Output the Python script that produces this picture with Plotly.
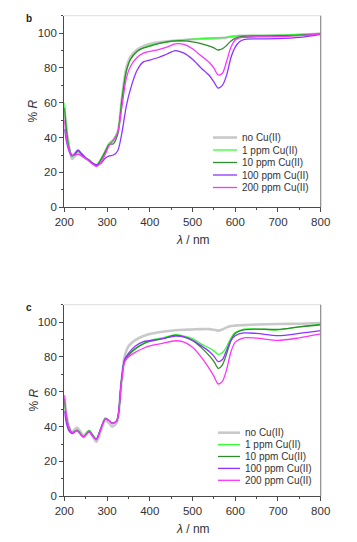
import plotly.graph_objects as go

# ---------------- data ----------------
series_names = ["no Cu(II)", "1 ppm Cu(II)", "10 ppm Cu(II)", "100 ppm Cu(II)", "200 ppm Cu(II)"]
series_colors = ["#c9c9c9", "#33ff33", "#2e8b2e", "#8f33ff", "#ff33ff"]
series_widths = [2.6, 1.3, 1.3, 1.3, 1.3]

# panel b
wl_b = [200, 205, 210, 218, 225, 232, 240, 250, 258, 265, 275, 285, 295, 305, 315, 325, 335, 345, 355,
        370, 385, 400, 420, 440, 460, 480, 500, 520, 540, 550, 560, 570, 580, 590, 600, 610, 620, 650,
        700, 750, 800]
b_none = [58, 45, 36, 27.8, 29.5, 32, 30, 28, 27, 25.5, 24, 27, 31.5, 36.5, 38.5, 43, 63, 80, 86.5,
          90.5, 92.5, 93.8, 94.8, 95.3, 95.7, 96, 96.5, 96.8, 97, 97, 97, 97.2, 97.5, 98, 98.2, 98.4, 98.5, 98.5,
          98.6, 99, 99.6]
b_1ppm = [60, 46, 37, 29.5, 30, 32.5, 30.5, 28, 27, 25.5, 24, 27.5, 32, 36.5, 39, 43.5, 63, 78, 85,
          89.5, 91.5, 93, 94, 94.8, 95.6, 96, 96.5, 96.8, 97, 97.2, 97.3, 97.4, 97.6, 98, 98.3, 98.5, 98.6, 98.7,
          98.8, 99.2, 99.8]
b_10ppm = [57, 44, 35, 29.5, 30.5, 32.5, 30.5, 28, 27, 25.5, 24, 27, 31.5, 36, 36.5, 42, 62, 78, 85,
           89.5, 91.5, 92.5, 94, 95, 95.5, 95.6, 95, 94, 92.5, 91.5, 90.3, 91, 93, 95.5, 97, 97.8, 98.2, 98.4,
           98.5, 98.8, 99.5]
b_100ppm = [45, 38, 33, 29.5, 31, 33, 31, 28.5, 27, 25.5, 24.5, 25, 28, 29.5, 30, 32.5, 43, 58, 68,
            78.5, 83.5, 84.5, 86, 88, 90, 88.5, 85, 80, 75.5, 72, 68.5, 70, 76, 86, 92, 95, 96.3, 96.7,
            96.8, 97.5, 99.3]
b_200ppm = [50, 40, 34, 30, 30, 30.5, 29.5, 28, 26.5, 25, 23.5, 25.5, 30, 35.5, 38.5, 43, 58, 74, 81,
            86, 88.5, 89.5, 90.5, 92, 93.8, 93.5, 91, 87, 83, 80, 76, 77, 84, 92, 96, 97.3, 97.6, 97.8,
            98, 98.6, 99.4]

# panel c
wl_c = [200, 205, 210, 218, 230, 245, 258, 265, 275, 285, 296, 305, 312, 323, 333, 341, 350, 365, 385,
        400, 430, 460, 480, 500, 520, 540, 550, 560, 570, 580, 590, 600, 620, 650, 700, 750, 800]
c_none = [58, 47, 41, 37, 39.4, 35, 37.5, 35, 31.3, 37, 43.5, 42, 40, 42.5, 64, 80, 86, 89.5, 92,
          93.2, 94.5, 95.3, 95.6, 95.8, 96, 96, 95.6, 95.1, 95.8, 97, 97.8, 98, 98.3, 98.6, 98.9, 99.1, 99.4]
c_1ppm = [56, 45, 40, 36.5, 38, 34.3, 37.8, 36, 33, 39, 45, 43.5, 42, 43.5, 65, 78, 81, 84.5, 87.8,
          89.5, 91, 92.8, 92, 90.5, 87.5, 85, 83.5, 81.5, 82.5, 86, 91, 94, 96, 96, 95.5, 97.3, 98.9]
c_10ppm = [56, 45, 40, 36.5, 38, 34.3, 37.5, 35.5, 32.5, 38.5, 44.5, 43.5, 42, 43.5, 65, 78, 81, 84.5, 87.5,
           89, 90.5, 92.5, 91.5, 89.5, 85.5, 80.5, 77.5, 73.5, 75.5, 82, 89.5, 93.5, 95.5, 96, 95.8, 97.3, 98.5]
c_100ppm = [49, 42, 38, 36, 37.5, 34, 37, 35, 33, 38.5, 44.5, 43.5, 41.8, 43.5, 65, 78.5, 82, 86, 88.8,
            89.3, 90.5, 92, 91.5, 89.5, 86.5, 83, 80.5, 77.3, 78.5, 84, 89.5, 92.2, 93.8, 93.5, 92.2, 93.5, 95.1]
c_200ppm = [58, 46, 40, 36.5, 37.7, 34, 37.3, 35, 32.5, 38.5, 44.5, 43.5, 41.8, 43.5, 64, 77, 80, 82.5, 85,
            86.3, 87.8, 89.3, 88.5, 85.5, 80, 73, 69, 64.5, 66, 73, 83, 88.5, 91, 90.8, 89.5, 91, 93.2]

x_ticks = [200, 300, 400, 500, 600, 700, 800]
y_ticks = [0, 20, 40, 60, 80, 100]
panel_labels = ["b", "c"]

# ---------------- figure ----------------
# the page body has a default 8px margin; the figure is sized to fill the rest of the window
OFF = 8
W, H = 357 - OFF, 542 - OFF
FONT = "Liberation Sans, Arial, sans-serif"
TXT = "#333333"
AX = "#4a4a4a"

def px_x(p):
    return (p - OFF) / W

def px_y(p):
    return 1 - (p - OFF) / H

# plot areas in window pixels (left, right, top, bottom)
panels = [
    dict(l=64.3, r=320.7, t=15.7, b=207.3, xa="x", ya="y",
         data=(wl_b, [b_none, b_1ppm, b_10ppm, b_100ppm, b_200ppm]),
         leg_x0=213, leg_x1=237, leg_tx=240, leg_y0=137.5, leg_dy=12.5),
    dict(l=64.3, r=320.7, t=304.7, b=496.3, xa="x2", ya="y2",
         data=(wl_c, [c_none, c_1ppm, c_10ppm, c_100ppm, c_200ppm]),
         leg_x0=218, leg_x1=240, leg_tx=243, leg_y0=432.7, leg_dy=11.9),
]

fig = go.Figure()
shapes = []
annotations = []

for pi, p in enumerate(panels):
    wl, ys = p["data"]
    for name, col, w, yv in zip(series_names, series_colors, series_widths, ys):
        fig.add_trace(go.Scatter(x=wl, y=yv, mode="lines", name=name,
                                 line=dict(color=col, width=w, shape="spline", smoothing=0.8),
                                 xaxis=p["xa"], yaxis=p["ya"], showlegend=False))
    # frame (top & right)
    xd = p["xa"] + " domain"
    yd = p["ya"] + " domain"
    shapes.append(dict(type="line", xref=xd, yref=yd, x0=0, x1=1, y0=1, y1=1,
                       line=dict(color="#dddddd", width=1)))
    shapes.append(dict(type="line", xref=xd, yref=yd, x0=1, x1=1, y0=0, y1=1,
                       line=dict(color="#8a8a8a", width=1.2)))
    # manual legend
    for i, (name, col, w) in enumerate(zip(series_names, series_colors, series_widths)):
        yy = p["leg_y0"] + i * p["leg_dy"]
        shapes.append(dict(type="line", xref="paper", yref="paper",
                           x0=px_x(p["leg_x0"]), x1=px_x(p["leg_x1"]), y0=px_y(yy), y1=px_y(yy),
                           line=dict(color=col, width=w)))
        annotations.append(dict(text=name, x=px_x(p["leg_tx"]), y=px_y(yy), xref="paper", yref="paper",
                                xanchor="left", yanchor="middle", showarrow=False,
                                font=dict(family=FONT, size=10, color=TXT)))
    # axis titles
    annotations.append(dict(text="<i>λ</i> / nm", x=px_x((p["l"] + p["r"]) / 2), y=px_y(p["b"] + 33),
                            xref="paper", yref="paper", xanchor="center", yanchor="middle",
                            showarrow=False, font=dict(family=FONT, size=12, color=TXT)))
    annotations.append(dict(text="% <i>R</i>", x=px_x(33), y=px_y((p["t"] + p["b"]) / 2),
                            xref="paper", yref="paper", xanchor="center", yanchor="middle",
                            textangle=-90, showarrow=False, font=dict(family=FONT, size=12, color=TXT)))
    # panel label
    annotations.append(dict(text="<b>" + panel_labels[pi] + "</b>", x=px_x(29), y=px_y(p["t"] + 3),
                            xref="paper", yref="paper", xanchor="center", yanchor="middle",
                            showarrow=False, font=dict(family=FONT, size=10, color="#222222")))

def xaxis_cfg(p):
    return dict(domain=[px_x(p["l"]), px_x(p["r"])], range=[200, 800], anchor=p["ya"],
                tickvals=x_ticks, ticks="outside", ticklen=4, tickwidth=1, tickcolor=AX,
                showline=True, linecolor=AX, linewidth=1.3, showgrid=False, zeroline=False,
                automargin=False,
                minor=dict(dtick=50, tick0=200, ticks="outside", ticklen=2, tickcolor=AX, showgrid=False),
                tickfont=dict(family=FONT, size=11.5, color=TXT), fixedrange=True)

def yaxis_cfg(p):
    return dict(domain=[px_y(p["b"]), px_y(p["t"])], range=[0, 110], anchor=p["xa"],
                tickvals=y_ticks, ticks="outside", ticklen=4, tickwidth=1, tickcolor=AX,
                showline=True, linecolor=AX, linewidth=1.3, showgrid=False, zeroline=False,
                automargin=False,
                minor=dict(dtick=10, tick0=0, ticks="outside", ticklen=2, tickcolor=AX, showgrid=False),
                tickfont=dict(family=FONT, size=11.5, color=TXT), fixedrange=True)

fig.update_layout(
    template="none",
    width=W, height=H,
    margin=dict(l=0, r=0, t=0, b=0, pad=0),
    paper_bgcolor="white", plot_bgcolor="white",
    showlegend=False,
    xaxis=xaxis_cfg(panels[0]), yaxis=yaxis_cfg(panels[0]),
    xaxis2=xaxis_cfg(panels[1]), yaxis2=yaxis_cfg(panels[1]),
    shapes=shapes, annotations=annotations,
)

fig.write_html("out.html", config={"displayModeBar": False})
